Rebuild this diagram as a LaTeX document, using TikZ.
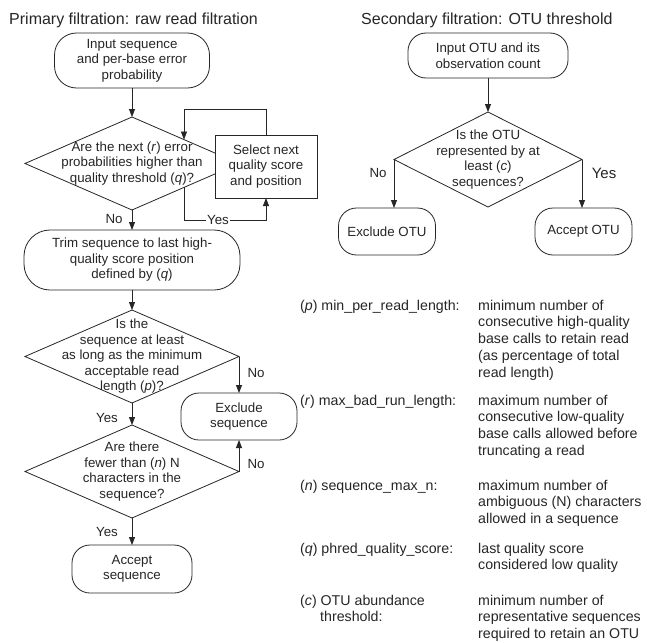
\documentclass[tikz,border=0pt]{standalone}
\usepackage{fontspec}
\setmainfont{Liberation Sans}
\usetikzlibrary{shapes.geometric,arrows.meta,calc}
\newcommand\flowfont{\fontsize{13.3}{15.5}\selectfont}
\newcommand\legfont{\fontsize{14.2}{16.8}\selectfont}
\newcommand\titfont{\fontsize{16}{19}\selectfont}
\begin{document}
\begin{tikzpicture}[x=1pt,y=-1pt,
  every node/.style={text=black!85},
  line/.style={draw=black!85,line width=0.8pt},
  arr/.style={line,-{Triangle[length=8pt,width=6pt]}},
  ftext/.style={font=\flowfont,align=center,inner sep=0pt},
  term/.style={line,rounded corners=18pt,fill=white,ftext,outer sep=0pt},
  pbox/.style={line,fill=white,ftext,outer sep=0pt},
  dia/.style={line,diamond,fill=white,inner sep=0pt,outer sep=0pt},
  lbl/.style={font=\flowfont,inner sep=1pt},
  leg/.style={font=\legfont,align=left,inner sep=0pt,anchor=north west},
  ttl/.style={font=\titfont,inner sep=0pt,anchor=west}
]
\useasboundingbox[fill=white] (0,0) rectangle (647,642);

% titles
\node[ttl] (t1) at (9,20) {Primary filtration: raw read filtration};
\node[ttl] (t2) at (361,20) {Secondary filtration: OTU threshold};

% primary flow
\node[term,rounded corners=22pt,minimum width=155pt,minimum height=55pt] (in1) at (132,60.5)
  {Input sequence\\and per-base error\\probability};
\node[dia,minimum width=214pt,minimum height=93pt,
  label={[ftext]center:{Are the next (\textit{r}) error\\probabilities higher than\\quality threshold (\textit{q})?}}]
  (d1) at (132,163.5) {};
\node[pbox,minimum width=102pt,minimum height=63pt] (sel) at (266,166.5)
  {Select next\\quality score\\and position};
\node[term,rounded corners=26pt,minimum width=216pt,minimum height=60pt] (trim) at (132,260)
  {Trim sequence to last high-\\quality score position\\defined by (\textit{q})};
\node[dia,minimum width=214pt,minimum height=93pt,
  label={[ftext]center:{Is the\\sequence at least\\as long as the minimum\\acceptable read\\length (\textit{p})?}}]
  (d2) at (132,356.5) {};
\node[term,minimum width=116pt,minimum height=47pt] (exs) at (239,416.5) {Exclude\\sequence};
\node[dia,minimum width=214pt,minimum height=93pt,
  label={[ftext]center:{Are there\\fewer than (\textit{n}) N\\characters in the\\sequence?}}]
  (d3) at (132,471.5) {};
\node[term,minimum width=120pt,minimum height=48pt] (acc) at (132,569) {Accept\\sequence};

\coordinate (lt) at ($(d1.north)!0.486!(d1.east)$);
\coordinate (lb) at ($(d1.south)!0.486!(d1.east)$);

\draw[arr] (in1.south) -- (d1.north);
\draw[arr] (sel.north) -- (sel.north |- 0,109) -| (lt);
\draw[arr] (lb) |- (sel.south |- 0,220) -- (sel.south);
\node[lbl,fill=white] (yl) at (218,220) {Yes};
\draw[arr] (d1.south) -- (trim.north);
\node[lbl] (no1) at (114,219) {No};
\draw[arr] (trim.south) -- (d2.north);
\draw[arr] (d2.east) -- (d2.east |- exs.north);
\node[lbl] (no2) at (256,373) {No};
\draw[arr] (d2.south) -- (d3.north);
\node[lbl] (ye2) at (107,418) {Yes};
\draw[arr] (d3.east) -- (d3.east |- exs.south);
\node[lbl] (no3) at (256,464) {No};
\draw[arr] (d3.south) -- (acc.north);
\node[lbl] (ye3) at (107,532) {Yes};

% secondary flow
\node[term,minimum width=160pt,minimum height=45pt] (in2) at (488,55.5)
  {Input OTU and its\\observation count};
\node[dia,minimum width=188pt,minimum height=95pt,
  label={[ftext]center:{Is the OTU\\represented by at\\least (\textit{c})\\sequences?}}]
  (d4) at (488,159.5) {};
\node[term,minimum width=97pt,minimum height=47pt] (exo) at (387,231.5) {Exclude OTU};
\node[term,minimum width=97pt,minimum height=47pt] (aco) at (583.5,231.5) {Accept OTU};
\draw[arr] (in2.south) -- (d4.north);
\draw[arr] (d4.west) -- (d4.west |- exo.north);
\draw[arr] (d4.east) -- (d4.east |- aco.north);
\node[lbl] (no4) at (378,173) {No};
\node[lbl,font=\fontsize{15}{18}\selectfont] (ye4) at (604,173) {Yes};

% legend
\node[leg] (lp) at (300,299.7) {(\textit{p}) min\_per\_read\_length:};
\node[leg] (dp) at (478,299.7) {minimum number of\\consecutive high-quality\\base calls to retain read\\(as percentage of total\\read length)};
\node[leg] (lr) at (300,394.7) {(\textit{r}) max\_bad\_run\_length:};
\node[leg] (dr) at (478,394.7) {maximum number of\\consecutive low-quality\\base calls allowed before\\truncating a read};
\node[leg] (ln) at (300,479.7) {(\textit{n}) sequence\_max\_n:};
\node[leg] (dn) at (478,479.7) {maximum number of\\ambiguous (N) characters\\allowed in a sequence};
\node[leg] (lq) at (300,542.7) {(\textit{q}) phred\_quality\_score:};
\node[leg] (dq) at (478,542.7) {last quality score\\considered low quality};
\node[leg] (lc) at (300,594.7) {(\textit{c}) OTU abundance\\\hspace*{20pt}threshold:};
\node[leg] (dc) at (478,594.7) {minimum number of\\representative sequences\\required to retain an OTU};
\end{tikzpicture}
\end{document}
